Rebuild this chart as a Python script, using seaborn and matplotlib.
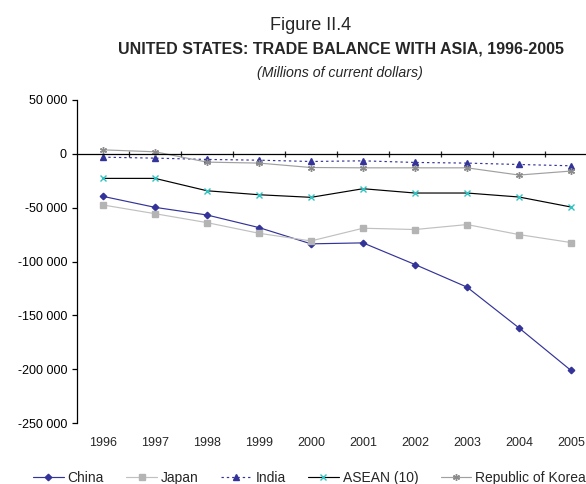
import numpy as np
import pandas as pd
import seaborn as sns
import matplotlib.pyplot as plt
from matplotlib.ticker import FuncFormatter

# US trade balance with Asian partners, millions of current dollars
years = [1996, 1997, 1998, 1999, 2000, 2001, 2002, 2003, 2004, 2005]
china = [-39500, -49700, -56800, -68500, -83600, -82700, -102800, -123800, -161700, -201200]
japan = [-47500, -55600, -63900, -73800, -80900, -69100, -70300, -65700, -75000, -82400]
india = [-3100, -4000, -5200, -5900, -7100, -6500, -8000, -8600, -9900, -11100]
asean = [-22800, -22800, -34300, -38000, -40400, -32400, -36400, -36400, -40100, -49400]
korea = [3700, 1900, -7700, -8600, -12700, -13000, -13000, -13000, -19700, -16000]
partners = ['China', 'Japan', 'India', 'ASEAN (10)', 'Republic of Korea']
yticks = [50000, 0, -50000, -100000, -150000, -200000, -250000]

df = pd.DataFrame({
    'year': years * 5,
    'value': china + japan + india + asean + korea,
    'partner': [p for p in partners for _ in years],
})

sns.set_style('white')
plt.rcParams['font.family'] = ['Liberation Sans', 'DejaVu Sans']

# line colour, marker, marker colour, marker size, linestyle
styles = {
    'China': ('#333399', 'D', '#333399', 3.3, '-'),
    'Japan': ('#c0c0c0', 's', '#b4b4b4', 4.5, '-'),
    'India': ('#333399', '^', '#333399', 4.5, (0, (2, 2.5))),
    'ASEAN (10)': ('#000000', 'x', '#2ec4c4', 4, '-'),
    'Republic of Korea': ('#a0a0a0', (6, 2, 0), '#8c8c8c', 5, '-'),
}

fig = plt.figure(figsize=(5.86, 4.84), dpi=100)
ax = fig.add_axes([77 / 586, 1 - 423 / 484, 520 / 586, 323 / 484])

for p in partners:
    lc, mk, mc, ms, ls = styles[p]
    sns.lineplot(data=df[df['partner'] == p], x='year', y='value', ax=ax,
                 color=lc, linestyle=ls, linewidth=0.85, marker=mk,
                 markersize=ms, markerfacecolor=mc, markeredgecolor=mc,
                 markeredgewidth=1.0, label=p, errorbar=None)

ax.set_xlim(1995.5, 2005.5)
ax.set_ylim(-250000, 50000)
ax.set_yticks(yticks)
ax.yaxis.set_major_formatter(FuncFormatter(lambda v, pos: f'{int(v):,}'.replace(',', ' ')))
ax.tick_params(axis='y', direction='out', length=3.6, width=0.9, pad=3.6,
               labelsize=9, left=True, colors='black')
ax.set_xlabel('')
ax.set_ylabel('')

for s in ['top', 'right']:
    ax.spines[s].set_visible(False)
ax.spines['left'].set_color('black')
ax.spines['left'].set_linewidth(0.9)
ax.spines['bottom'].set_position(('data', 0))
ax.spines['bottom'].set_color('black')
ax.spines['bottom'].set_linewidth(0.9)
ax.set_xticks([y + 0.5 for y in years[:-1]])
ax.set_xticklabels([])
ax.tick_params(axis='x', direction='inout', length=5, width=0.9, bottom=True)

sec = ax.secondary_xaxis('bottom')
sec.set_xticks(years)
sec.set_xticklabels([str(y) for y in years])
sec.tick_params(length=0, pad=10, labelsize=9)
sec.spines['bottom'].set_visible(False)

if ax.get_legend() is not None:
    ax.get_legend().remove()
handles, labels = ax.get_legend_handles_labels()
fig.legend(handles, labels, loc='center left', bbox_to_anchor=(33 / 586, 1 - 478 / 484),
           ncol=5, frameon=False, fontsize=10, handlelength=2.2,
           handletextpad=0.3, columnspacing=1.6, borderaxespad=0, borderpad=0)

fig.text(311 / 586, 1 - 25 / 484, 'Figure II.4', ha='center', va='center', fontsize=13)
fig.text(341 / 586, 1 - 49 / 484, 'UNITED STATES: TRADE BALANCE WITH ASIA, 1996-2005',
         ha='center', va='center', fontsize=11.5, fontweight='bold')
fig.text(340 / 586, 1 - 73 / 484, '(Millions of current dollars)', ha='center',
         va='center', fontsize=10.2, fontstyle='italic')

fig.savefig('out.png', dpi=100)
